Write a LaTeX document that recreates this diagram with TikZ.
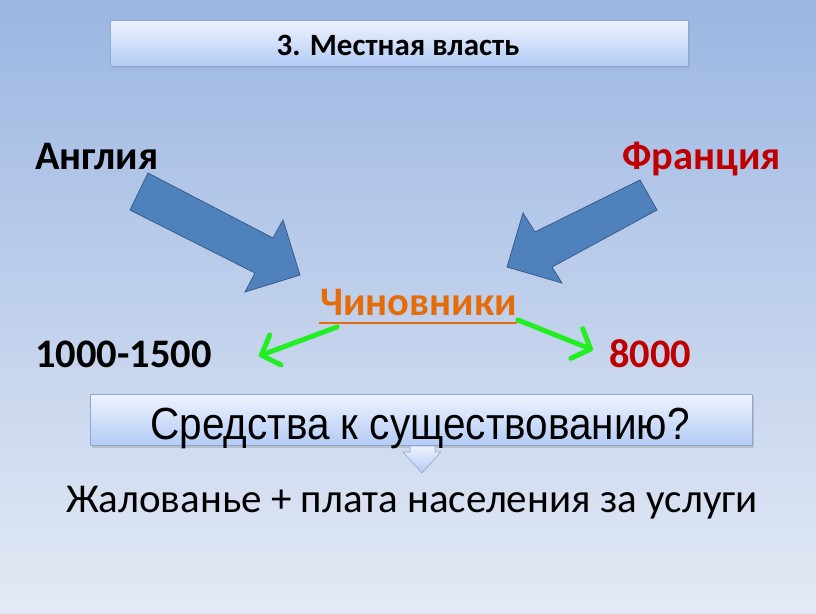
\documentclass[tikz,border=0pt]{standalone}
\usepackage{fontspec}
\setmainfont{Carlito}
\newfontfamily\arialf{Liberation Sans}
\usetikzlibrary{arrows.meta,shadows}
\definecolor{bgtop}{HTML}{9BB6E2}
\definecolor{bgbot}{HTML}{E4EAF5}
\definecolor{boxtop}{HTML}{EEF3FD}
\definecolor{boxbot}{HTML}{B3CBF5}
\definecolor{boxline}{HTML}{8CA8D2}
\definecolor{arrfill}{HTML}{4F81BD}
\definecolor{arrline}{HTML}{385D8A}
\definecolor{redtxt}{HTML}{C00000}
\definecolor{orangetxt}{HTML}{E46C0A}
\definecolor{greenarr}{HTML}{22EE22}
\tikzset{
  gradbox/.style={draw=boxline, line width=0.8pt, top color=boxtop, bottom color=boxbot,
    drop shadow={shadow xshift=1.5pt, shadow yshift=-2pt, fill=black!35, opacity=0.5}, inner sep=0pt},
  bigtxt/.style={font=\fontsize{40.5}{44}\selectfont\bfseries, inner sep=0pt, anchor=base west},
  blockarrow/.style={fill=arrfill, draw=arrline, line width=0.8pt, line join=miter},
  greenline/.style={draw=greenarr, line width=5pt, line cap=round,
    -{Straight Barb[length=15pt,width=32pt,line width=5pt,round]}}
}
\begin{document}
\begin{tikzpicture}[x=1pt,y=-1pt]
\useasboundingbox (0,0) rectangle (816,613);
\shade[top color=bgtop, bottom color=bgbot] (0,0) rectangle (816,613);

% title
\node[gradbox, minimum width=578pt, minimum height=46pt] (title) at (399,43) {};
\node[font=\fontsize{31}{34}\selectfont\bfseries, inner sep=0pt, anchor=base] (titletxt) at (398,55) {3. Местная власть};

% country labels
\node[bigtxt] (eng) at (35,169) {Англия};
\node[bigtxt, text=redtxt] (fra) at (622,169) {Франция};

% block arrows
\draw[blockarrow] (148,173) -- (130,210) -- (255,273) -- (245,292) -- (300,275) -- (283,220) -- (273,238) -- cycle;
\draw[blockarrow] (640,180) -- (657,210) -- (552,267) -- (562,283) -- (507,267) -- (523,213) -- (535,232) -- cycle;

% officials
\node[bigtxt, text=orangetxt] (chin) at (320,315) {Чиновники};
\draw[orangetxt, line width=2pt] (chin.base west) ++(-1,8) coordinate (ul1) -- (ul1 -| chin.base east);

\node[bigtxt] (num1) at (35,367) {1000-1500};
\node[bigtxt, text=redtxt] (num2) at (609,367) {8000};

\coordinate (gl1) at (337,327);
\coordinate (gl2) at (259,356);
\coordinate (gr1) at (518,320);
\coordinate (gr2) at (593,350);
\draw[greenline] (gl1) -- (gl2);
\draw[greenline] (gr1) -- (gr2);

% means box
\node[gradbox, minimum width=662pt, minimum height=51pt] (means) at (421,420) {};
\node[font=\arialf\fontsize{45}{48}\selectfont, inner sep=0pt, anchor=base, xscale=0.9] (meanstxt) at (420,439) {Средства к существованию?};

% small down arrow
\shade[top color=boxtop, bottom color=boxbot, draw=boxline, line width=0.6pt]
  (410,446) -- (435,446) -- (435,452) -- (441,452) -- (422,473) -- (403,452) -- (410,452) -- cycle;

\node[font=\fontsize{41}{44}\selectfont, inner sep=0pt, anchor=base] (pay) at (412,512) {Жалованье + плата населения за услуги};
\end{tikzpicture}
\end{document}
